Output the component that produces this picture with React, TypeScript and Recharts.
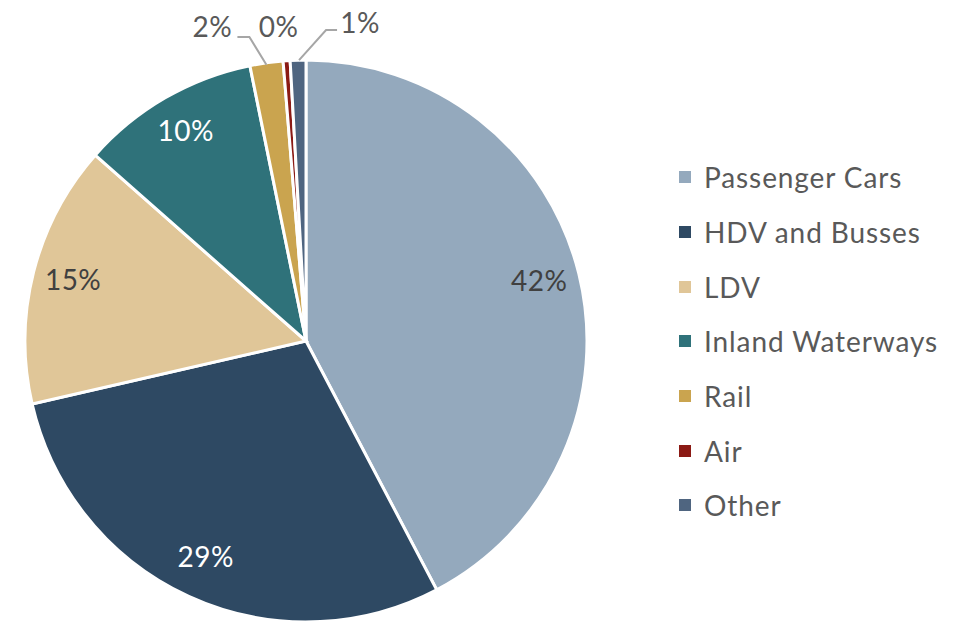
import { PieChart, Pie, Cell } from "recharts";

const categories = ["Passenger Cars", "HDV and Busses", "LDV", "Inland Waterways", "Rail", "Air", "Other"];
const shares = [42.3, 29.1, 15.1, 10.3, 1.9, 0.4, 0.9];
const colors = ["#94A9BD", "#2E4963", "#E0C698", "#2F727A", "#CAA44F", "#8B1A14", "#4F6580"];
// white text on the dark slices
const labelFill = ["#404040", "#FFFFFF", "#404040", "#FFFFFF", "#595959", "#595959", "#595959"];

const data = categories.map((name, i) => ({ name, value: shares[i] }));

const FONT = "Lato, 'Open Sans', sans-serif";
const RAD = Math.PI / 180;

// small slices get their labels pushed outside, spread sideways
const outsideNudge: Record<number, number> = { 4: -54, 5: -8, 6: 62 };

function renderLabel(props: any) {
  const { cx, cy, midAngle, outerRadius, percent, index } = props;
  const txt = `${Math.round(percent * 100)}%`;
  const sin = Math.sin(-midAngle * RAD);
  const cos = Math.cos(-midAngle * RAD);
  if (percent >= 0.05) {
    const r = outerRadius * 0.855;
    return (
      <text x={cx + r * cos} y={cy + r * sin - 3} fill={labelFill[index]} textAnchor="middle" dominantBaseline="central"
        style={{ fontSize: 28, fontFamily: FONT, letterSpacing: 0.5 }}>
        {txt}
      </text>
    );
  }
  const ex = cx + outerRadius * cos;
  const ey = cy + outerRadius * sin;
  const lx = ex + outsideNudge[index];
  const ly = cy - outerRadius - 34;
  let line = null;
  if (index === 4) {
    line = <polyline points={`${ex},${ey + 2} ${ex - 17},${ly + 11} ${ex - 29},${ly + 11}`} fill="none" stroke="#A6A6A6" strokeWidth={2} />;
  } else if (index === 6) {
    line = <polyline points={`${ex + 1},${ey} ${ex + 28},${ly + 4} ${ex + 39},${ly + 4}`} fill="none" stroke="#A6A6A6" strokeWidth={2} />;
  }
  return (
    <g>
      {line}
      <text x={lx} y={index === 6 ? ly - 4 : ly} fill={labelFill[index]} textAnchor="middle" dominantBaseline="central"
        style={{ fontSize: 28, fontFamily: FONT, letterSpacing: 0.5 }}>
        {txt}
      </text>
    </g>
  );
}

function LegendList() {
  return (
    <ul style={{ listStyle: "none", margin: 0, padding: 0, position: "absolute", left: 679, top: 150 }}>
      {categories.map((name, i) => (
        <li key={name} style={{ display: "flex", alignItems: "center", height: 54.7, fontFamily: FONT, fontSize: 28, color: "#595959", whiteSpace: "nowrap", letterSpacing: 0.9 }}>
          <span style={{ width: 12, height: 12, background: colors[i], marginRight: 13, display: "inline-block" }} />
          {name}
        </li>
      ))}
    </ul>
  );
}

export default function App() {
  return (
    <div style={{ position: "absolute", left: 0, top: 0, width: 964, height: 623, background: "#fff" }}>
      <PieChart width={964} height={623} margin={{ top: 0, right: 0, bottom: 0, left: 0 }}>
        <Pie data={data} dataKey="value" nameKey="name" cx={306} cy={341} outerRadius={281} startAngle={90} endAngle={-270}
          stroke="#FFFFFF" strokeWidth={3} isAnimationActive={false} label={renderLabel} labelLine={false}>
          {data.map((_, i) => <Cell key={i} fill={colors[i]} />)}
        </Pie>
      </PieChart>
      <LegendList />
    </div>
  );
}
